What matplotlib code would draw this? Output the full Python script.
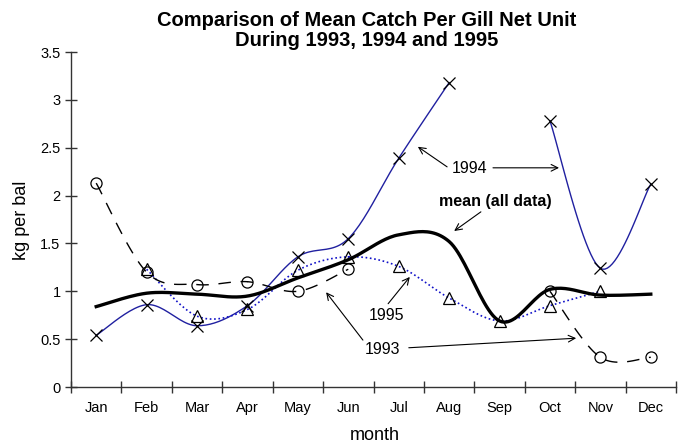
import numpy as np
import matplotlib
matplotlib.use('Agg')
import matplotlib.pyplot as plt

plt.rcParams['font.family'] = ['Liberation Sans', 'DejaVu Sans']

months = ['Jan', 'Feb', 'Mar', 'Apr', 'May', 'Jun',
          'Jul', 'Aug', 'Sep', 'Oct', 'Nov', 'Dec']
# kg per bal, None = no sampling that month
catch_1993 = [2.13, 1.20, 1.07, 1.10, 1.00, 1.23, None, None, None, 1.00, 0.31, 0.31]
catch_1994 = [0.54, 0.86, 0.64, 0.85, 1.36, 1.55, 2.39, 3.18, None, 2.78, 1.24, 2.12]
catch_1995 = [None, 1.23, 0.74, 0.81, 1.22, 1.36, 1.26, 0.93, 0.69, 0.85, 1.00, None]
catch_mean = [0.84, 0.98, 0.97, 0.95, 1.14, 1.33, 1.59, 1.52, 0.69, 1.02, 0.96, 0.97]
y_ticks = [0, 0.5, 1, 1.5, 2, 2.5, 3, 3.5]


def smooth(xs, ys, n=24):
    # catmull-rom curve through the points (like excel's smoothed line)
    pts = np.column_stack([xs, ys]).astype(float)
    P = np.vstack([pts[0], pts, pts[-1]])
    t = np.linspace(0, 1, n)[:, None]
    out = []
    for i in range(1, len(P) - 2):
        p0, p1, p2, p3 = P[i-1], P[i], P[i+1], P[i+2]
        seg = 0.5 * (2*p1 + (p2 - p0)*t + (2*p0 - 5*p1 + 4*p2 - p3)*t**2
                     + (-p0 + 3*p1 - 3*p2 + p3)*t**3)
        out.append(seg)
    return np.vstack(out)


def runs(vals):
    # split series into pieces without gaps
    pieces, cur = [], []
    for i, v in enumerate(vals):
        if v is None:
            if cur:
                pieces.append(cur)
            cur = []
        else:
            cur.append((i + 0.5, v))
    if cur:
        pieces.append(cur)
    return pieces


def draw_series(ax, vals, marker=None, **kw):
    for piece in runs(vals):
        xs, ys = zip(*piece)
        if len(piece) > 1:
            c = smooth(xs, ys)
            ax.plot(c[:, 0], c[:, 1], **kw)
        if marker:
            ax.plot(xs, ys, linestyle='none', marker=marker, ms=8,
                    mfc='none', mec='k', mew=0.9, zorder=5)


fig = plt.figure(figsize=(6.82, 4.44), dpi=100)
ax = fig.add_axes([71/682, 1 - 387/444, 605/682, 335/444])

draw_series(ax, catch_1994, marker='x', color='#2020a0', lw=1.0, zorder=2)
draw_series(ax, catch_1995, marker='^', color='#1010c8', lw=1.2,
            linestyle=(0, (1, 1.6)), zorder=2)
draw_series(ax, catch_1993, marker='o', color='k', lw=1.0,
            linestyle=(0, (9, 7)), zorder=2)
draw_series(ax, catch_mean, color='k', lw=2.4, zorder=3)

ax.set_xlim(0, 12)
ax.set_ylim(0, 3.5)
ax.spines['top'].set_visible(False)
ax.spines['right'].set_visible(False)
for s in ['left', 'bottom']:
    ax.spines[s].set_color('#333333')
    ax.spines[s].set_linewidth(1.0)

ax.set_xticks(np.arange(13))
ax.set_xticklabels([])
ax.set_xticks(np.arange(12) + 0.5, minor=True)
ax.set_xticklabels(months, minor=True)
ax.tick_params(axis='x', which='major', direction='inout', length=9,
               width=1, color='#333333')
ax.tick_params(axis='x', which='minor', length=0, pad=10, labelsize=10.5)
ax.set_yticks(y_ticks)
ax.set_yticklabels(['%g' % v for v in y_ticks])
ax.tick_params(axis='y', direction='inout', length=9, width=1,
               color='#333333', labelsize=10.5, pad=3)

fig.text(367/682, 1 - 26/444, 'Comparison of Mean Catch Per Gill Net Unit',
         ha='center', va='baseline', fontsize=14.5, fontweight='bold')
fig.text(367/682, 1 - 45.5/444, 'During 1993, 1994 and 1995',
         ha='center', va='baseline', fontsize=14.5, fontweight='bold')
fig.text(22/682, 1 - 220/444, 'kg per bal', rotation=90,
         ha='center', va='center', fontsize=13)
fig.text(375/682, 1 - 440/444, 'month', ha='center', va='baseline', fontsize=13)

arrow = dict(arrowstyle='->', color='k', lw=0.8, shrinkA=0, shrinkB=0,
             mutation_scale=12)

ax.text(7.91, 2.28, '1994', ha='center', va='center', fontsize=11.5)
ax.annotate('', xy=(6.88, 2.51), xytext=(7.46, 2.30), arrowprops=arrow)
ax.annotate('', xy=(9.68, 2.29), xytext=(8.37, 2.29), arrowprops=arrow)

ax.text(8.41, 1.94, 'mean (all data)', ha='center', va='center',
        fontsize=11.5, fontweight='bold')
ax.annotate('', xy=(7.60, 1.63), xytext=(8.13, 1.83), arrowprops=arrow)

ax.text(6.25, 0.75, '1995', ha='center', va='center', fontsize=11.5)
ax.annotate('', xy=(6.72, 1.15), xytext=(6.29, 0.87), arrowprops=arrow)

ax.text(6.17, 0.39, '1993', ha='center', va='center', fontsize=11.5)
ax.annotate('', xy=(5.06, 0.99), xytext=(5.79, 0.49), arrowprops=arrow)
ax.annotate('', xy=(10.02, 0.51), xytext=(6.70, 0.41), arrowprops=arrow)

fig.savefig('out.png', dpi=100)
